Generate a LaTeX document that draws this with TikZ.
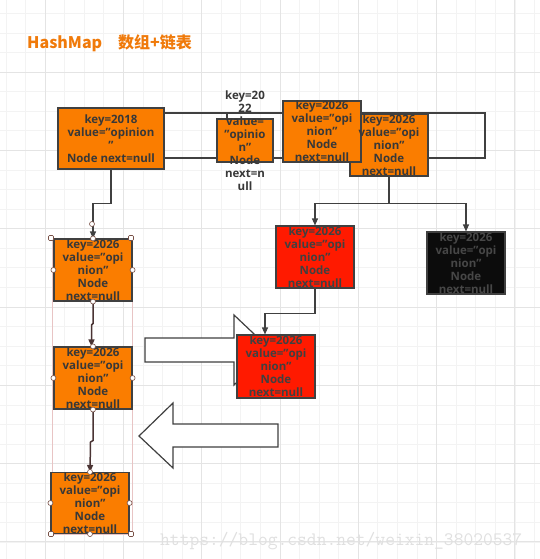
\documentclass[tikz,border=0pt]{standalone}
\usepackage{fontspec}
\setmainfont{Open Sans}
\newfontfamily\cjk{Noto Sans CJK SC}
\usetikzlibrary{arrows.meta}
\definecolor{orng}{RGB}{250,125,0}
\definecolor{redf}{RGB}{255,26,0}
\definecolor{blkf}{RGB}{12,12,12}
\definecolor{edge}{RGB}{64,64,64}
\definecolor{lcol}{RGB}{74,52,52}
\definecolor{ttl}{RGB}{240,122,10}
\definecolor{mgrid}{RGB}{243,243,243}
\definecolor{Mgrid}{RGB}{228,228,228}
\definecolor{wm}{RGB}{224,224,224}
\definecolor{hcol}{RGB}{120,80,70}
\definecolor{selc}{RGB}{232,196,196}
\tikzset{
  cell/.style={draw=edge, line width=1.1pt, inner sep=0pt},
  txt/.style={align=center, inner sep=0pt, text=black!78, font=\bfseries\fontsize{11.5}{13}\selectfont},
  conn/.style={draw=edge, line width=1.2pt, -{Triangle[length=7pt,width=6pt]}},
  lconn/.style={draw=lcol, line width=1.5pt, -{Triangle[length=7pt,width=6pt]}},
  hnd/.style={circle, draw=hcol, fill=white, inner sep=0pt, minimum size=5pt, line width=0.6pt},
  hndc/.style={rectangle, rounded corners=1pt, draw=hcol, fill=white, inner sep=0pt, minimum size=5pt, line width=0.6pt},
  bigarrow/.style={draw=edge, fill=white, line width=1.2pt, line join=miter}
}
\begin{document}
\begin{tikzpicture}[x=1pt,y=-1pt]
\useasboundingbox (0,0) rectangle (540,559);
\fill[white] (0,0) rectangle (540,559);
% grid
\foreach \i in {0,...,27} { \draw[mgrid, line width=0.6pt] ({5.85+19.575*\i},0) -- ({5.85+19.575*\i},559); }
\foreach \i in {0,...,28} { \draw[mgrid, line width=0.6pt] (0,{13.3+19.575*\i}) -- (540,{13.3+19.575*\i}); }
\foreach \i in {0,...,6} { \draw[Mgrid, line width=0.8pt] ({45+78.3*\i},0) -- ({45+78.3*\i},559); }
\foreach \i in {0,...,6} { \draw[Mgrid, line width=0.8pt] (0,{72+78.3*\i}) -- (540,{72+78.3*\i}); }

% title
\node[anchor=west, text=ttl, font=\cjk\bfseries\fontsize{16}{18}\selectfont, inner sep=0pt] (title) at (27,43) {HashMap\hspace{16pt}数组+链表};

% array outline
\draw[edge, line width=1.2pt] (164,113) rectangle (485,158);
\draw[edge, line width=1.2pt] (227,113) -- (227,119);

% top row boxes
\node[cell, fill=orng, minimum width=78pt, minimum height=62pt] (D) at (389,145) {};
\node[cell, fill=orng, minimum width=78pt, minimum height=61pt] (C) at (322,131.5) {};
\node[cell, fill=orng, minimum width=106pt, minimum height=61pt] (A) at (111,138.5) {};
\node[cell, fill=orng, minimum width=56pt, minimum height=43pt] (B) at (245,140.5) {};
\node[txt] at (D) {key=2026\\value="opi\\nion"\\Node\\next=null};
\node[txt] at (C) {key=2026\\value="opi\\nion"\\Node\\next=null};
\node[txt] at (A) {key=2018\\value="opinion\\"\\Node next=null};
\node[txt] at (B) {key=20\\22\\value=\\"opinio\\n"\\Node\\next=n\\ull};

% big arrows
\draw[bigarrow] (145,338) -- (234,338) -- (234,315) -- (271,350) -- (234,385) -- (234,362) -- (145,362) -- cycle;
\draw[bigarrow] (139,436) -- (173,403) -- (173,424) -- (278,424) -- (278,447) -- (173,447) -- (173,468) -- cycle;

% red / black boxes
\node[cell, fill=redf, minimum width=78pt, minimum height=62pt] (E) at (315,257) {};
\node[txt, text=black!75] at (E) {key=2026\\value="opi\\nion"\\Node\\next=null};
\node[cell, fill=blkf, minimum width=78pt, minimum height=62pt] (F) at (466,263) {};
\node[txt, text=black!72] at (F) {key=2026\\value="opi\\nion"\\Node\\next=null};
\node[cell, fill=redf, minimum width=78pt, minimum height=63pt] (G) at (276,366.5) {};
\node[txt, text=black!75] at (G) {key=2026\\value="opi\\nion"\\Node\\next=null};

% left column
\draw[selc, line width=0.6pt] (52,238) rectangle (132,534);
\node[cell, fill=orng, minimum width=78pt, minimum height=62pt] (H1) at (93,270) {};
\node[txt] at (H1) {key=2026\\value="opi\\nion"\\Node\\next=null};
\node[cell, fill=orng, minimum width=78pt, minimum height=62pt] (H2) at (93,378) {};
\node[txt] at (H2) {key=2026\\value="opi\\nion"\\Node\\next=null};
\node[cell, fill=orng, minimum width=78pt, minimum height=61pt] (H3) at (90,503) {};
\node[txt] at (H3) {key=2026\\value="opi\\nion"\\Node\\next=null};

% connectors
\draw[conn] (A.south) -- ++(0,34) -| (H1.north);
\draw[edge, line width=1.2pt] (D.south) -- ++(0,27) coordinate (dj);
\draw[conn] (dj) -| (E.north);
\draw[conn] (dj) -| (F.north);
\draw[conn] (E.south) -- ++(0,25) -| ([xshift=-11pt]G.north);
\draw[lconn] (H1.south) -- ++(0,22) -- ++(-1.5,1.5) -- ([xshift=-1.5pt]H2.north);
\draw[lconn] (H2.south) -- ++(0,31) -- ++(-2.5,1.5) -- (H3.north);

% handles
\node[hnd] (c0) at (92,224) {};
\node[hndc] (s1) at (51,238) {};
\node[hndc] (s2) at (131,238) {};
\node[hnd] at (H1.north) {};
\node[hnd] at (H1.west) {};
\node[hnd] at (H1.east) {};
\node[hnd] at (H1.south) {};
\node[hnd] at (H2.north) {};
\node[hnd] at (H2.west) {};
\node[hnd] at (H2.east) {};
\node[hnd] at (H2.south) {};
\node[hnd] at (H3.north) {};
\node[hnd] at (H3.west) {};
\node[hnd] at (H3.east) {};
\node[hnd] at (H3.south) {};
\node[hndc] (s3) at (51,534) {};
\node[hndc] (s4) at (131,534) {};

% watermark
\node[anchor=base west, inner sep=0pt, text=wm, font=\ttfamily\fontsize{19}{19}\selectfont] (wmk) at (160,545) {https://blog.csdn.net/weixin\_38020537};
\end{tikzpicture}
\end{document}
